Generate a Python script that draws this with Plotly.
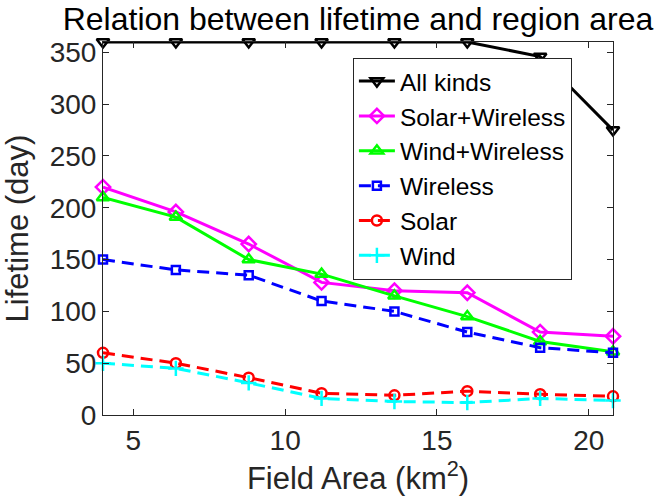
import plotly.graph_objects as go

# Field area (km^2) and lifetime (days) for each energy source combination
field_area = [4, 6.4, 8.8, 11.2, 13.6, 16, 18.4, 20.8]
all_kinds = [360, 360, 360, 360, 360, 360, 346, 275]
solar_wireless = [220, 196, 165, 128, 120, 118, 80, 76]
wind_wireless = [210, 191, 150, 136, 115, 95, 71, 61]
wireless = [150, 140, 135, 110, 100, 80, 65, 60]
solar = [60, 50, 36, 21, 19, 23, 20, 18]
wind = [50, 45, 31, 16, 13, 12, 16, 14]

x_ticks = [5, 10, 15, 20]
y_ticks = [0, 50, 100, 150, 200, 250, 300, 350]

FONT = "Liberation Sans, Arial, Helvetica, sans-serif"
INK = "#262626"
DASH = "12px,7px"

series = [
    ("All kinds", all_kinds, "#000000", "solid", "triangle-down-open", 11),
    ("Solar+Wireless", solar_wireless, "#ff00ff", "solid", "diamond-open", 11),
    ("Wind+Wireless", wind_wireless, "#00ff00", "solid", "triangle-up-open", 11),
    ("Wireless", wireless, "#0000ff", DASH, "square-open", 8),
    ("Solar", solar, "#ff0000", DASH, "circle-open", 10),
    ("Wind", wind, "#00ffff", DASH, "cross-thin", 11),
]

fig = go.Figure()
for name, values, color, dash, symbol, size in series:
    fig.add_trace(go.Scatter(
        x=field_area, y=values, name=name, mode="lines+markers",
        line=dict(color=color, width=3, dash=dash),
        marker=dict(symbol=symbol, size=size, color=color,
                    line=dict(color=color, width=2.5)),
        cliponaxis=False,
    ))

axis_common = dict(
    showline=True, mirror="ticks", linecolor=INK, linewidth=1,
    ticks="inside", ticklen=6, tickwidth=1, tickcolor=INK,
    showgrid=False, zeroline=False,
    tickfont=dict(family=FONT, size=28, color=INK),
)

fig.update_layout(
    width=655, height=504,
    margin=dict(l=103, r=42, t=42, b=89),
    paper_bgcolor="white", plot_bgcolor="white",
    font=dict(family=FONT, color=INK),
    title=dict(text="Relation between lifetime and region area",
               x=(103 + 613) / 2 / 655, xanchor="center",
               y=1 - 19 / 504, yanchor="middle", yref="container",
               font=dict(family=FONT, size=32, color="#000000")),
    xaxis=dict(range=[4, 20.8], tickvals=x_ticks,
               title=dict(text="Field Area (km<sup>2</sup>)", standoff=6,
                          font=dict(family=FONT, size=31, color=INK)),
               **axis_common),
    yaxis=dict(range=[0, 360], tickvals=y_ticks,
               title=dict(text="Lifetime (day)", standoff=12,
                          font=dict(family=FONT, size=31, color=INK)),
               **axis_common),
    legend=dict(x=0.49, y=0.958, xanchor="left", yanchor="top",
                bgcolor="white", bordercolor=INK, borderwidth=1,
                font=dict(family=FONT, size=24.5, color="#000000"),
                tracegroupgap=0, itemwidth=36),
    showlegend=True,
)

fig.write_html("out.html")
